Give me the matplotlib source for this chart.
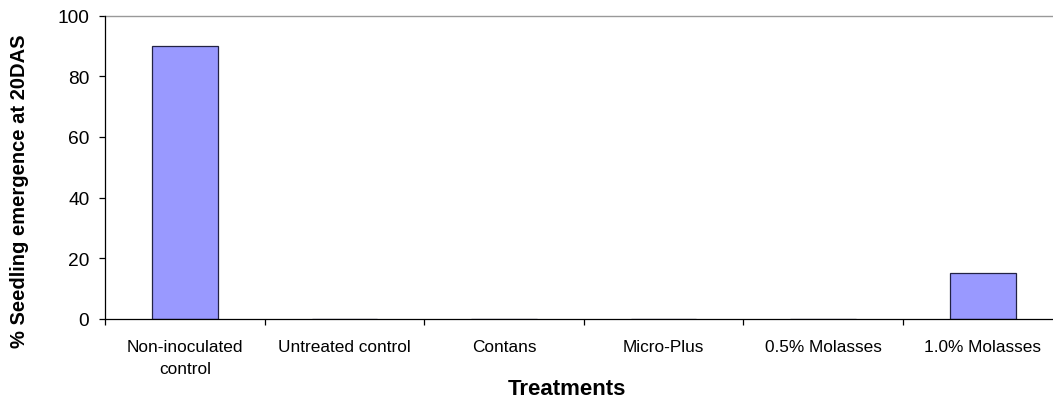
import matplotlib
matplotlib.use("Agg")
import matplotlib.pyplot as plt
import numpy as np

categories = ["Non-inoculated\ncontrol", "Untreated control", "Contans",
              "Micro-Plus", "0.5% Molasses", "1.0% Molasses"]
values = [90, 0, 0, 0, 0, 15]
y_ticks = [0, 20, 40, 60, 80, 100]

plt.rcParams['font.family'] = ['Liberation Sans', 'DejaVu Sans']

fig = plt.figure(figsize=(10.53, 4.06), dpi=100)
ax = fig.add_axes([105/1053, 1 - 320/406, 957.6/1053, (320 - 16.5)/406])

x = np.arange(len(categories))
ax.bar(x, values, width=0.41, color="#9999FF", edgecolor="#222244", linewidth=0.9, zorder=2)

ax.set_xlim(-0.5, len(categories) - 0.5)
ax.set_ylim(0, 100)
ax.set_yticks(y_ticks)
ax.tick_params(axis='y', labelsize=13.8, direction='out', length=4.3, width=0.9, pad=7)

ax.set_xticks(x)
ax.set_xticklabels(categories, fontsize=12.4, linespacing=1.55)
ax.tick_params(axis='x', which='major', length=0, pad=14.5)
ax.set_xticks(np.arange(-0.5, len(categories) + 0.5, 1), minor=True)
ax.tick_params(axis='x', which='minor', length=4.5, width=0.9, direction='out')

for s in ['left', 'bottom']:
    ax.spines[s].set_color('black')
    ax.spines[s].set_linewidth(0.9)
    ax.spines[s].set_zorder(3)
ax.spines['top'].set_color('#999999')
ax.spines['top'].set_linewidth(1.0)
ax.spines['right'].set_visible(False)

fig.text(20/1053, 1 - 191/406, "% Seedling emergence at 20DAS", rotation=90,
         fontsize=14.5, fontweight='bold', ha='center', va='center')
fig.text(567/1053, 1 - 395/406, "Treatments", fontsize=16, fontweight='bold',
         ha='center', va='baseline')

fig.savefig("out.png", dpi=100)
